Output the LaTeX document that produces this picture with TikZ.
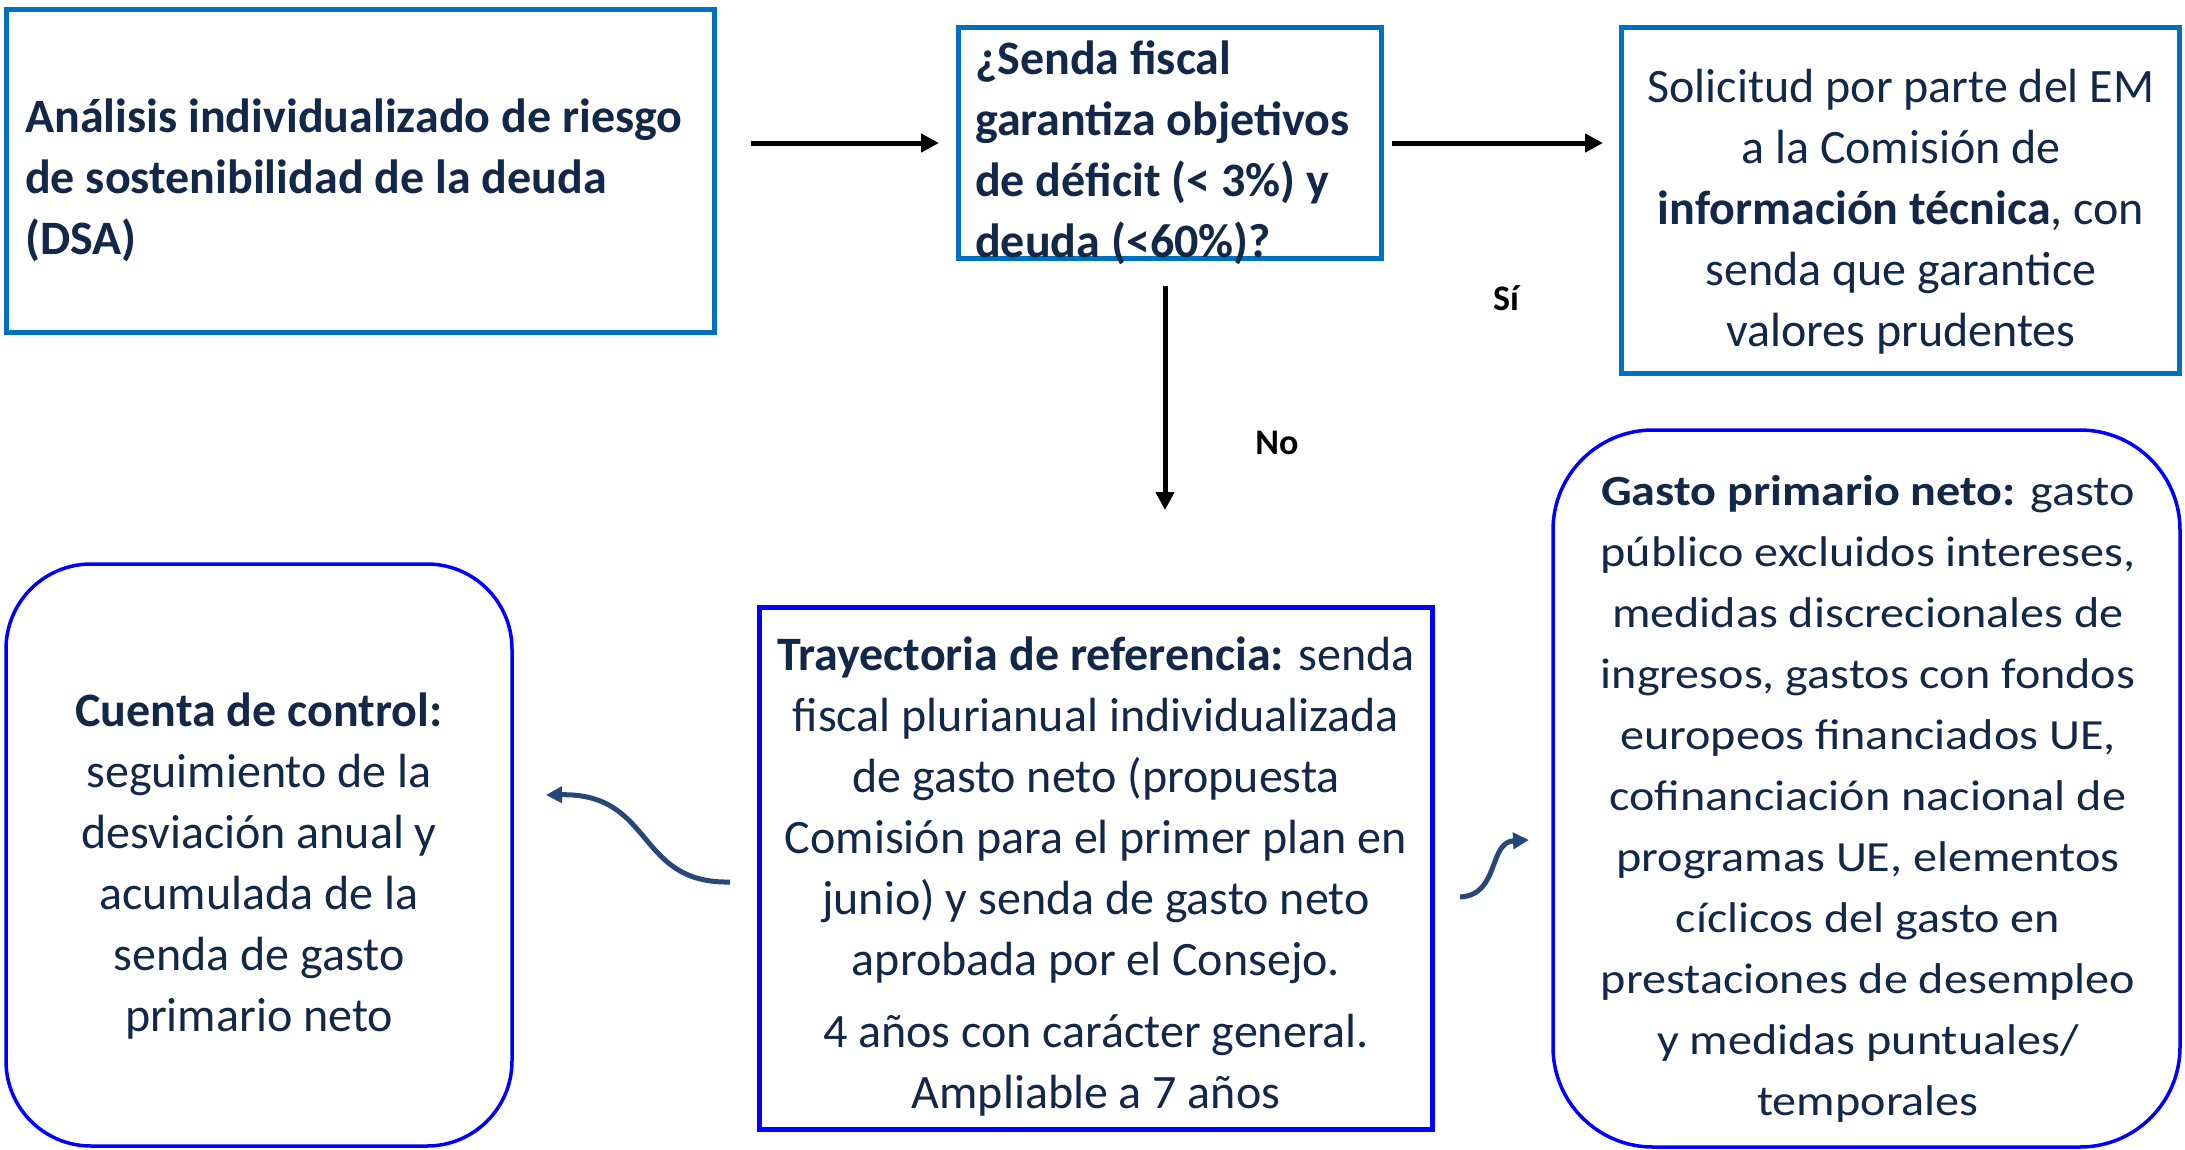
\documentclass[tikz,border=0pt]{standalone}
\usepackage{fontspec}
\setmainfont{Carlito}
\newfontfamily\widefont[FakeStretch=1.12]{Carlito}
\usetikzlibrary{arrows.meta}
\definecolor{officeblue}{RGB}{0,112,192}
\definecolor{pureblue}{RGB}{0,0,255}
\definecolor{navytext}{RGB}{19,39,72}
\definecolor{curveblue}{RGB}{37,72,120}
\begin{document}
\begin{tikzpicture}[x=1pt,y=-1pt,
  topbox/.style={draw=officeblue, line width=5pt, inner sep=0pt},
  sqbox/.style={draw=pureblue, line width=5pt, inner sep=0pt},
  rndbox/.style={draw=pureblue, line width=3.5pt, inner sep=0pt},
  txt/.style={text=navytext, inner sep=0pt, font=\fontsize{48}{61}\selectfont},
  lbl/.style={text=black, inner sep=0pt, font=\bfseries\fontsize{36}{42}\selectfont},
  blackarrow/.style={line width=5pt, -{Triangle[length=18pt,width=18pt]}},
  curvearrow/.style={draw=curveblue, line width=5pt, -{Triangle[length=16pt,width=16pt]}}
]
\useasboundingbox[fill=white] (0,0) rectangle (2185,1149);

% boxes
\node[topbox, minimum width=708pt, minimum height=323pt] (b1) at (360,170.5) {};
\node[topbox, minimum width=423pt, minimum height=231pt] (b2) at (1170,143) {};
\node[topbox, minimum width=558pt, minimum height=346pt] (b3) at (1900.5,200.5) {};
\node[rndbox, rounded corners=85pt, minimum width=506pt, minimum height=582pt] (cc) at (259,855) {};
\node[sqbox, minimum width=673pt, minimum height=522pt] (tr) at (1096,868.5) {};
\node[rndbox, rounded corners=100pt, minimum width=627pt, minimum height=717pt] (gp) at (1866.5,788.5) {};

% texts
\node[txt, font=\bfseries\fontsize{48}{61}\selectfont, anchor=west, align=left] (t1) at (25,180)
  {Análisis individualizado de riesgo\\de sostenibilidad de la deuda\\(DSA)};
\node[txt, font=\bfseries\fontsize{48}{61}\selectfont, anchor=west, align=left] (t2) at (975,153)
  {¿Senda fiscal\\garantiza objetivos\\de déficit (< 3\%) y\\deuda (<60\%)?};
\node[txt, align=center] (t3) at (1901,212)
  {Solicitud por parte del EM\\a la Comisión de\\\textbf{información técnica}, con\\senda que garantice\\valores prudentes};
\node[txt, align=center] (t4) at (259,866)
  {\textbf{Cuenta de control:}\\seguimiento de la\\desviación anual y\\acumulada de la\\senda de gasto\\primario neto};
\node[txt, align=center] (t5) at (1096,877)
  {\textbf{Trayectoria de referencia:} senda\\fiscal plurianual individualizada\\de gasto neto (propuesta\\Comisión para el primer plan en\\junio) y senda de gasto neto\\aprobada por el Consejo.\\[11pt]4 años con carácter general.\\Ampliable a 7 años};
\node[txt, font=\widefont\fontsize{43}{61}\selectfont, align=center] (t6) at (1868,799)
  {\textbf{Gasto primario neto:} gasto\\público excluidos intereses,\\medidas discrecionales de\\ingresos, gastos con fondos\\europeos financiados UE,\\cofinanciación nacional de\\programas UE, elementos\\cíclicos del gasto en\\prestaciones de desempleo\\y medidas puntuales/\\temporales};

% labels
\node[lbl] (si) at (1506,298) {Sí};
\node[lbl] (no) at (1277,443) {No};

% connectors
\draw[blackarrow, shorten <=34pt, shorten >=17pt] (b1.east |- b2.west) -- (b2.west);
\draw[blackarrow, shorten <=8pt, shorten >=16pt] (b2.east) -- (b2.east -| b3.west);
\coordinate (noend) at (1165,510);
\draw[blackarrow, shorten <=25pt] (b2.south -| noend) -- (noend);

\coordinate (cl1) at (730,882);
\coordinate (cl2) at (546,795);
\draw[curvearrow] (cl1) .. controls (635,884) and (655,793) .. (cl2);
\coordinate (cr1) at (1460,897);
\coordinate (cr2) at (1529,840);
\draw[curvearrow] (cr1) .. controls (1500,895) and (1488,842) .. (cr2);
\end{tikzpicture}
\end{document}
